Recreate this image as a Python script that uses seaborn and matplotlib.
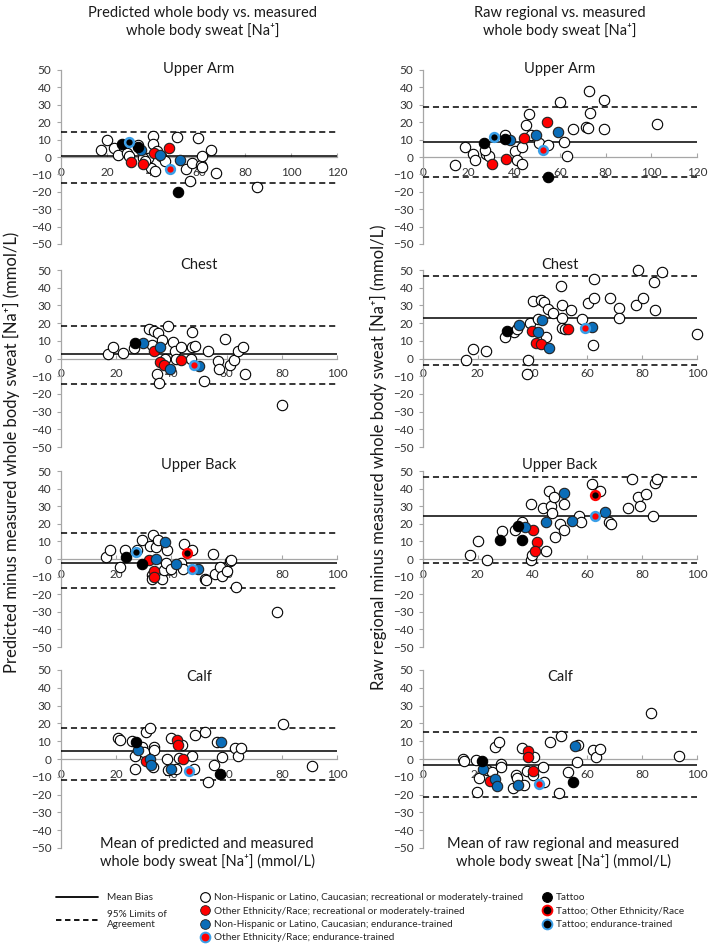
import numpy as np
import pandas as pd
import matplotlib
matplotlib.use("Agg")
import matplotlib.pyplot as plt
from matplotlib.lines import Line2D
import seaborn as sns

# ---------------- data ----------------
# group codes: o = Non-Hispanic/Caucasian recreational, r = other ethnicity recreational,
# b = Non-Hispanic/Caucasian endurance, rb = other ethnicity endurance,
# t = tattoo, tr = tattoo other ethnicity, tb = tattoo endurance
# stats = [mean bias, upper LoA, lower LoA]

UA_P_X = [17.6, 20.1, 23.1, 24.6, 28.7, 29.4, 33.4, 40.0, 40.0, 39.3, 41.0, 41.8, 43.4, 38.0, 45.0, 50.3,
          54.3, 56.2, 56.9, 59.4, 61.0, 61.3, 61.3, 65.3, 67.2, 85.3, 35.6, 36.6,
          30.4, 35.6, 40.4, 47.0,
          34.9, 42.9, 51.8,
          47.4,
          26.5, 33.4, 50.7,
          29.7]
UA_P_Y = [3.8, 9.5, 5.2, 1.3, 2.3, 0.4, 7.1, 12.2, 7.6, -6.3, -8.2, 3.2, 0.4, -0.6, -2.5, 11.5,
          -6.9, -13.9, -3.4, 10.9, -4.8, 0.8, -5.7, 4.2, -9.2, -17.4, -0.6, -2.5,
          -2.9, -4.0, 2.3, 5.2,
          4.2, 1.3, -1.9,
          -6.7,
          7.6, 5.7, -20.0,
          8.4]
UA_P_G = ["o"] * 28 + ["r"] * 4 + ["b"] * 3 + ["rb"] + ["t"] * 3 + ["tb"]
UA_P_STATS = [0.8, 14.6, -14.8]

UA_R_X = [14.0, 18.4, 21.7, 22.9, 27.6, 28.8, 27.3, 36.1, 40.1, 41.3, 43.2, 43.2, 45.3, 46.5, 47.2, 50.9,
          54.6, 60.0, 61.7, 63.0, 65.9, 71.5, 72.7, 73.0, 72.3, 79.2, 79.2, 102.5,
          30.2, 36.4, 44.2, 54.3,
          37.9, 49.4, 59.3,
          52.7,
          26.8, 36.1, 54.9,
          31.3]
UA_R_Y = [-4.4, 5.5, 1.7, -1.5, 1.7, 0.8, 4.2, 12.8, 3.2, -1.5, -3.8, 5.7, 18.5, 24.8, 12.8, 8.0,
          7.1, 31.5, 8.4, 0.8, 16.2, 17.2, 38.2, 25.2, 16.6, 32.8, 16.2, 18.9,
          -3.8, -1.1, 10.9, 20.4,
          9.5, 12.8, 14.1,
          4.2,
          8.0, 10.5, -11.5,
          11.5]
UA_R_G = ["o"] * 28 + ["r"] * 4 + ["b"] * 3 + ["rb"] + ["t"] * 3 + ["tb"]
UA_R_STATS = [8.6, 28.8, -11.5]

CH_P_X = [17.2, 18.7, 22.4, 26.3, 31.8, 33.0, 33.8, 35.0, 36.6, 38.8, 34.8, 35.4, 37.6, 40.6, 41.2, 41.7,
          43.3, 47.5, 47.5, 48.7, 47.2, 51.8, 53.2, 56.8, 57.2, 59.4, 61.2, 62.7, 64.2, 66.1, 66.7, 80.2,
          33.8, 35.8, 37.2, 43.6,
          29.7, 36.0, 39.6, 49.9,
          48.1,
          26.9]
CH_P_Y = [2.8, 6.6, 3.2, 6.0, 16.7, 7.9, 15.4, 14.4, 10.7, 18.2, -8.6, -13.7, 0.0, 9.4, 4.5, 0.0,
          6.4, 14.8, 6.4, 7.3, 0.0, -12.7, 4.5, -1.5, -5.8, 11.2, -3.4, -1.1, 4.1, 6.6, -8.6, -26.2,
          4.1, -2.1, -3.7, -1.1,
          8.8, 6.6, -6.2, -4.3,
          -3.9,
          8.8]
CH_P_G = ["o"] * 32 + ["r"] * 4 + ["b"] * 4 + ["rb"] + ["t"]
CH_P_STATS = [2.6, 18.5, -14.4]

CH_R_X = [15.7, 18.2, 23.1, 29.8, 33.2, 34.4, 39.0, 38.5, 37.8, 40.0, 41.8, 43.1, 44.0, 44.9, 45.5, 47.4,
          50.4, 50.8, 50.8, 50.8, 51.7, 54.1, 58.1, 60.3, 62.4, 62.4, 62.1, 68.3, 71.6, 71.6, 77.7, 78.5,
          80.3, 84.3, 84.6, 87.1, 100.0,
          39.7, 41.4, 43.1, 52.9,
          35.1, 41.8, 43.4, 45.9, 61.5,
          59.0,
          30.5]
CH_R_Y = [-0.8, 5.3, 4.4, 12.0, 15.2, 16.7, 20.2, -1.0, -8.9, 32.3, 22.4, 32.9, 31.9, 12.4, 27.8, 25.9,
          41.1, 30.0, 23.0, 17.1, 16.7, 27.6, 22.4, 31.6, 34.4, 44.7, 7.8, 34.2, 28.5, 22.8, 30.4, 50.0,
          34.2, 43.3, 27.2, 48.7, 13.9,
          15.4, 8.7, 8.2, 16.7,
          19.0, 14.8, 21.5, 5.7, 17.7,
          17.1,
          15.4]
CH_R_G = ["o"] * 37 + ["r"] * 4 + ["b"] * 5 + ["rb"] + ["t"]
CH_R_STATS = [22.8, 46.4, -3.4]

UB_P_X = [16.4, 17.8, 21.5, 23.3, 27.5, 29.3, 33.3, 32.4, 34.5, 35.0, 33.0, 33.0, 36.6, 37.2, 38.4, 38.1,
          40.0, 43.3, 44.1, 44.5, 47.5, 52.0, 52.6, 55.0, 55.7, 57.6, 58.4, 60.2, 61.2, 61.5, 63.3, 78.2,
          32.0, 33.8, 33.8,
          34.5, 37.5, 41.5, 49.6,
          47.5,
          23.6, 29.3,
          27.3,
          45.7]
UB_P_Y = [0.9, 4.9, -4.5, 4.9, 4.9, 10.9, 13.6, 7.5, 6.8, 10.6, -8.9, -11.3, -11.1, -6.4, 4.9, -2.3,
          -5.7, -2.3, -5.7, 8.5, 4.9, -11.1, -11.7, 2.8, -8.5, -4.7, -9.4, -6.6, -1.3, -0.8, -15.8, -30.2,
          -0.8, -6.6, -10.2,
          0.2, 9.6, -2.8, -5.7,
          -5.7,
          1.1, -2.6,
          3.8,
          3.4]
UB_P_G = ["o"] * 32 + ["r"] * 3 + ["b"] * 4 + ["rb"] + ["t"] * 2 + ["tb"] + ["tr"]
UB_P_STATS = [-2.5, 14.7, -16.6]

UB_R_X = [17.2, 20.2, 23.3, 28.8, 33.7, 36.0, 39.3, 39.6, 39.5, 43.8, 44.8, 46.0, 46.6, 47.2, 47.9, 48.2,
          49.9, 51.5, 51.5, 56.8, 57.7, 61.6, 64.7, 67.9, 68.5, 74.8, 76.3, 78.3, 79.1, 81.3, 84.0, 84.7, 85.3,
          40.1, 41.7, 40.9,
          37.2, 44.8, 51.5, 54.2, 66.3,
          62.6,
          28.2, 34.7, 36.2,
          62.8]
UB_R_Y = [2.5, 10.0, -0.4, 15.7, 16.6, 20.9, -0.4, 2.5, 31.3, 29.2, 4.7, 38.7, 30.2, 26.4, 35.5, 12.3,
          20.0, 31.1, 16.2, 24.5, 20.9, 42.6, 38.9, 20.8, 20.0, 28.9, 45.3, 35.5, 30.2, 36.8, 24.7, 43.4, 45.3,
          16.2, 9.4, 4.3,
          18.1, 20.8, 37.4, 21.7, 26.6,
          24.5,
          10.6, 18.5, 10.6,
          36.4]
UB_R_G = ["o"] * 33 + ["r"] * 3 + ["b"] * 5 + ["rb"] + ["t"] * 3 + ["tr"]
UB_R_STATS = [24.5, 46.4, -2.1]

CA_P_X = [20.8, 21.5, 25.7, 26.9, 26.7, 29.3, 29.9, 30.8, 32.4, 33.6, 33.8, 33.3, 38.4, 38.8, 40.0, 41.7,
          42.9, 43.9, 47.5, 48.1, 48.7, 52.0, 53.2, 55.4, 56.4, 58.4, 63.0, 64.1, 65.1, 80.6, 90.8,
          30.9, 42.1, 42.4, 44.2,
          27.8, 32.4, 32.7, 40.0, 57.8,
          46.5,
          27.3, 57.6]
CA_P_Y = [12.0, 10.7, 10.2, 1.5, -5.6, 7.0, 3.7, 15.2, 17.6, 6.5, 5.2, -4.6, 0.0, -6.1, 12.0, -5.6,
          0.4, 7.8, 1.5, -5.6, 13.3, 15.4, -13.0, -3.1, 9.6, 0.9, 5.9, 1.9, 5.9, 19.4, -4.1,
          -1.3, 10.6, 7.8, 0.0,
          5.2, 0.0, -3.3, -5.6, 9.3,
          -6.9,
          9.3, -8.3]
CA_P_G = ["o"] * 31 + ["r"] * 4 + ["b"] * 5 + ["rb"] + ["t"] * 2
CA_P_STATS = [4.3, 17.3, -11.8]

CA_R_X = [14.5, 14.8, 19.3, 19.7, 20.3, 23.4, 25.0, 26.1, 27.9, 28.5, 28.5, 32.9, 33.8, 34.2, 36.3, 36.9,
          38.1, 40.6, 40.0, 43.9, 44.3, 46.4, 49.6, 50.2, 52.9, 56.6, 56.3, 62.1, 63.0, 64.6, 83.3, 93.5,
          24.6, 38.5, 38.5, 40.0,
          21.8, 26.4, 27.1, 34.8, 55.4,
          42.4,
          21.5, 54.7]
CA_R_Y = [0.0, -0.9, -0.6, -18.7, -10.5, -6.2, -7.5, 6.6, 9.7, -2.8, -4.3, -16.1, -9.0, -10.5, 6.0, -14.6,
          -6.7, 1.3, -9.0, -4.3, -12.7, 9.7, -19.3, 13.1, -7.5, 7.9, -1.5, 5.1, 0.9, 5.6, 26.0, 1.7,
          -12.2, 4.5, 1.3, -6.7,
          -5.8, -11.4, -15.2, -14.6, 7.5,
          -14.2,
          -0.9, -12.7]
CA_R_G = ["o"] * 32 + ["r"] * 4 + ["b"] * 5 + ["rb"] + ["t"] * 2
CA_R_STATS = [-3.6, 15.2, -21.3]

REGIONS = ["Upper Arm", "Chest", "Upper Back", "Calf"]
X_MAX = [120, 100, 100, 100]

COL_TITLES = ["Predicted whole body vs. measured\nwhole body sweat [Na\u207a]",
              "Raw regional vs. measured\nwhole body sweat [Na\u207a]"]
X_LABELS = ["Mean of predicted and measured\nwhole body sweat [Na\u207a] (mmol/L)",
            "Mean of raw regional and measured\nwhole body sweat [Na\u207a] (mmol/L)"]
Y_LABELS = ["Predicted minus measured whole body sweat [Na\u207a] (mmol/L)",
            "Raw regional minus measured whole body sweat [Na\u207a] (mmol/L)"]

LEGEND_LINES = ["Mean Bias", "95% Limits of\nAgreement"]
LEGEND_GROUPS = ["Non-Hispanic or Latino, Caucasian; recreational or moderately-trained",
                 "Other Ethnicity/Race; recreational or moderately-trained",
                 "Non-Hispanic or Latino, Caucasian; endurance-trained",
                 "Other Ethnicity/Race; endurance-trained"]
LEGEND_TATTOO = ["Tattoo", "Tattoo; Other Ethnicity/Race", "Tattoo; endurance-trained"]

# ---------------- style ----------------
sns.set_theme(style="white")
plt.rcParams['font.family'] = ['Lato', 'DejaVu Sans']

W, H = 709, 948
fig = plt.figure(figsize=(W / 100, H / 100), dpi=100)
fig.patch.set_facecolor("white")

RED = "#FF0000"
BLUE = "#0B6DB8"
LBLUE = "#3A9FE8"
GRAY = "#A6A6A6"
TXT = "#1A1A1A"

STYLES = {
    "o": dict(face="white", edge="black", lw=0.8, s=56),
    "r": dict(face=RED, edge="#222222", lw=0.8, s=56),
    "b": dict(face=BLUE, edge="#222222", lw=0.8, s=56),
    "rb": dict(face=RED, edge=LBLUE, lw=1.8, s=40),
    "t": dict(face="black", edge="black", lw=0.8, s=56),
    "tr": dict(face="black", edge=RED, lw=1.8, s=40),
    "tb": dict(face="black", edge=LBLUE, lw=1.8, s=40),
}
ORDER = ["o", "r", "b", "rb", "t", "tr", "tb"]

COLS_PX = [(61, 337), (423, 697)]
ROWS_PX = [(70, 244), (270, 447), (471, 647), (670, 848)]
TITLE_Y = [69, 265, 465, 677]

PANELS = [
    [(UA_P_X, UA_P_Y, UA_P_G, UA_P_STATS), (UA_R_X, UA_R_Y, UA_R_G, UA_R_STATS)],
    [(CH_P_X, CH_P_Y, CH_P_G, CH_P_STATS), (CH_R_X, CH_R_Y, CH_R_G, CH_R_STATS)],
    [(UB_P_X, UB_P_Y, UB_P_G, UB_P_STATS), (UB_R_X, UB_R_Y, UB_R_G, UB_R_STATS)],
    [(CA_P_X, CA_P_Y, CA_P_G, CA_P_STATS), (CA_R_X, CA_R_Y, CA_R_G, CA_R_STATS)],
]


def px_axes(x0, x1, ytop, ybot):
    return fig.add_axes([x0 / W, 1 - ybot / H, (x1 - x0) / W, (ybot - ytop) / H])


for r, (ytop, ybot) in enumerate(ROWS_PX):
    for c, (x0, x1) in enumerate(COLS_PX):
        xs, ys, gs, stats = PANELS[r][c]
        ax = px_axes(x0, x1, ytop, ybot)
        ax.set_facecolor("none")
        df = pd.DataFrame({"x": xs, "y": ys, "g": gs})
        bias, upper, lower = stats
        ax.axhline(bias, color="black", lw=1.1, zorder=2)
        ax.axhline(upper, color="black", lw=1.1, ls=(0, (4, 2.5)), zorder=2)
        ax.axhline(lower, color="black", lw=1.1, ls=(0, (4, 2.5)), zorder=2)
        for code in ORDER:
            sub = df[df["g"] == code]
            if sub.empty:
                continue
            st = STYLES[code]
            sns.scatterplot(data=sub, x="x", y="y", ax=ax, color=st["face"],
                            edgecolor=st["edge"], linewidth=st["lw"], s=st["s"],
                            legend=False, zorder=3, clip_on=False)
        xmax = X_MAX[r]
        ax.set_xlim(0, xmax)
        ax.set_ylim(-50, 50)
        ax.set_xticks(list(range(0, xmax + 1, 20)))
        ax.set_yticks(list(range(-50, 51, 10)))
        ax.set_xlabel("")
        ax.set_ylabel("")
        for s in ["top", "right"]:
            ax.spines[s].set_visible(False)
        ax.spines["bottom"].set_position(("data", 0))
        for s in ["bottom", "left"]:
            ax.spines[s].set_color(GRAY)
            ax.spines[s].set_linewidth(0.9)
            ax.spines[s].set_zorder(1)
        ax.tick_params(axis="x", direction="in", length=3, width=0.8, color=GRAY,
                       labelsize=8.5, labelcolor="#333333", pad=7, bottom=True)
        ax.tick_params(axis="y", direction="out", length=3, width=0.8, color=GRAY,
                       labelsize=8.5, labelcolor="#333333", pad=4, left=True)
        ax.grid(False)
        fig.text((x0 + x1) / 2 / W, 1 - TITLE_Y[r] / H, REGIONS[r], ha="center",
                 va="center", fontsize=10.5, color=TXT)

# column titles, axis labels
COL_CX = [203, 560]
XL_CX = [207, 563]
YL_X = [11, 378]
YL_CY = [452, 457]
for c in range(2):
    fig.text(COL_CX[c] / W, 1 - 22 / H, COL_TITLES[c], ha="center", va="center",
             fontsize=10.5, color=TXT, linespacing=1.25)
    fig.text(XL_CX[c] / W, 1 - 853 / H, X_LABELS[c], ha="center", va="center",
             fontsize=10.5, color=TXT, linespacing=1.25)
    fig.text(YL_X[c] / W, 1 - YL_CY[c] / H, Y_LABELS[c], ha="center", va="center",
             rotation=90, fontsize=12, color=TXT)

# legends
h_lines = [Line2D([], [], color="black", lw=1.3),
           Line2D([], [], color="black", lw=1.3, ls=(0, (3, 2)))]
fig.legend(h_lines, LEGEND_LINES, loc="upper left", bbox_to_anchor=(56 / W, 1 - 893 / H),
           frameon=False, fontsize=7.2, handlelength=4.2, handletextpad=0.9,
           labelspacing=0.8, borderaxespad=0, borderpad=0)


def mk(face, edge, ew):
    return Line2D([], [], ls="", marker="o", markersize=7, markerfacecolor=face,
                  markeredgecolor=edge, markeredgewidth=ew)


h_groups = [mk("white", "black", 0.8), mk(RED, "#222222", 0.6),
            mk(BLUE, "#222222", 0.6), mk(RED, LBLUE, 1.4)]
fig.legend(h_groups, LEGEND_GROUPS, loc="upper left", bbox_to_anchor=(200 / W, 1 - 893 / H),
           frameon=False, fontsize=7.2, handlelength=1.0, handletextpad=0.4,
           labelspacing=0.45, borderaxespad=0, borderpad=0)
h_tat = [mk("black", "black", 0.8), mk("black", RED, 1.4), mk("black", LBLUE, 1.4)]
fig.legend(h_tat, LEGEND_TATTOO, loc="upper left", bbox_to_anchor=(542 / W, 1 - 893 / H),
           frameon=False, fontsize=7.2, handlelength=1.0, handletextpad=0.4,
           labelspacing=0.45, borderaxespad=0, borderpad=0)

fig.savefig("out.png", dpi=100, facecolor="white")
